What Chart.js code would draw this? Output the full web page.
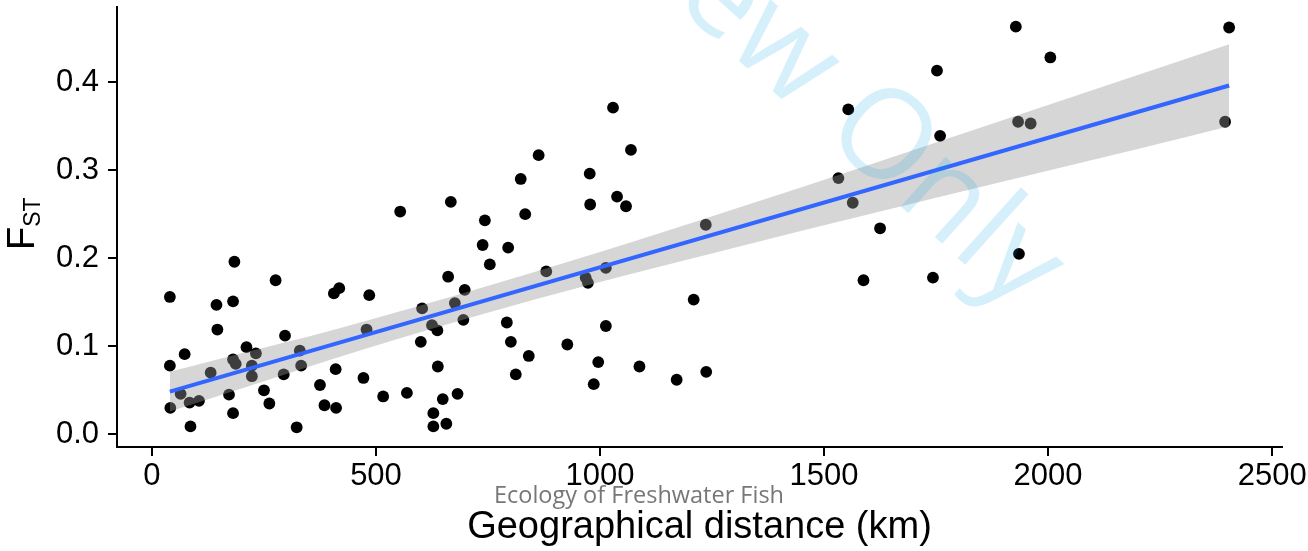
<!DOCTYPE html>
<html>
<head>
<meta charset="utf-8">
<script src="https://cdn.jsdelivr.net/npm/chart.js@4.4.1/dist/chart.umd.min.js"></script>
<style>
  html, body { margin: 0; padding: 0; background: #fff; }
  #wrap { width: 1308px; height: 551px; }
</style>
</head>
<body>
<div id="wrap"><canvas id="fstChart"></canvas></div>
<script>
// geographical distance (km) and pairwise FST
const distKm = [184, 276, 40, 144, 181, 146, 297, 211, 232, 73,
  40, 181, 187, 223, 223, 131, 294, 330, 333, 250,
  262, 172, 64, 84, 105, 41, 181, 86, 323, 738,
  754, 418, 406, 485, 661, 698, 676, 603, 695, 625,
  637, 479, 600, 410, 375, 472, 638, 569, 516, 385,
  411, 649, 682, 628, 628, 657, 823, 863, 978, 1038,
  1058, 743, 833, 795, 880, 968, 973, 1013, 792, 801,
  841, 812, 927, 1013, 996, 986, 1088, 554, 667, 1029,
  1069, 977, 1236, 1209, 1171, 1237, 1928, 2005, 1752, 1554,
  1759, 1933, 1961, 1532, 1564, 1625, 1935, 1588, 1743, 2404,
  2395];
const fst = [0.196, 0.175, 0.156, 0.147, 0.151, 0.119, 0.112, 0.099, 0.092, 0.091,
  0.078, 0.085, 0.080, 0.078, 0.066, 0.070, 0.068, 0.095, 0.078, 0.050,
  0.035, 0.045, 0.046, 0.036, 0.038, 0.030, 0.024, 0.009, 0.008, 0.215,
  0.193, 0.166, 0.160, 0.158, 0.179, 0.164, 0.149, 0.143, 0.130, 0.124,
  0.118, 0.119, 0.105, 0.074, 0.056, 0.064, 0.077, 0.047, 0.043, 0.033,
  0.030, 0.040, 0.046, 0.024, 0.009, 0.012, 0.290, 0.317, 0.261, 0.270,
  0.259, 0.243, 0.250, 0.212, 0.185, 0.178, 0.172, 0.189, 0.127, 0.105,
  0.089, 0.068, 0.102, 0.123, 0.082, 0.057, 0.077, 0.253, 0.264, 0.371,
  0.323, 0.296, 0.238, 0.153, 0.062, 0.071, 0.463, 0.428, 0.413, 0.369,
  0.339, 0.355, 0.353, 0.291, 0.263, 0.234, 0.205, 0.175, 0.178, 0.462,
  0.355];

// linear fit (blue line) end points
const fitX = [40, 2404];
const fitY = [0.0485, 0.3962];

// 95% confidence band, read at a few distances
const bandX = [40, 200, 400, 700, 1000, 1300, 1600, 1900, 2200, 2404];
const bandLow = [0.026, 0.052, 0.085, 0.131, 0.173, 0.212, 0.250, 0.287, 0.324, 0.350];
const bandHigh = [0.071, 0.092, 0.118, 0.161, 0.207, 0.256, 0.306, 0.357, 0.408, 0.443];

const xTicks = [0, 500, 1000, 1500, 2000, 2500];
const yTicks = [0, 0.1, 0.2, 0.3, 0.4];

const toXY = (xs, ys) => xs.map((x, i) => ({ x: x, y: ys[i] }));

const textPlugin = {
  id: 'texts',
  afterDraw(chart) {
    const ctx = chart.ctx;
    const area = chart.chartArea;
    const cx = (area.left + area.right) / 2;
    ctx.save();
    ctx.fillStyle = '#000';
    ctx.textBaseline = 'alphabetic';

    // x title
    ctx.font = '38px "Liberation Sans", Arial, sans-serif';
    ctx.textAlign = 'center';
    ctx.fillText('Geographical distance (km)', cx, 538);

    // journal caption
    ctx.fillStyle = '#777';
    ctx.font = '23.5px "Open Sans", sans-serif';
    ctx.fillText('Ecology of Freshwater Fish', 639, 503);

    // y title F with subscript ST
    ctx.fillStyle = '#000';
    ctx.save();
    ctx.translate(34, 250);
    ctx.rotate(-Math.PI / 2);
    ctx.textAlign = 'left';
    ctx.font = '38px "Liberation Sans", Arial, sans-serif';
    ctx.fillText('F', 0, 0);
    const fw = ctx.measureText('F').width;
    ctx.font = '23px "Liberation Sans", Arial, sans-serif';
    ctx.fillText('ST', fw, 6);
    ctx.restore();

    // watermark
    ctx.save();
    ctx.translate(780, 50);
    ctx.rotate(42 * Math.PI / 180);
    ctx.font = '125px "Open Sans", sans-serif';
    ctx.fillStyle = 'rgba(0,160,230,0.16)';
    ctx.textAlign = 'center';
    ctx.textBaseline = 'middle';
    ctx.fillText('Review Only', 0, 0);
    ctx.restore();

    ctx.restore();
  }
};

new Chart(document.getElementById('fstChart'), {
  type: 'scatter',
  data: {
    datasets: [
      {
        data: toXY(distKm, fst),
        backgroundColor: '#000',
        pointRadius: 5.9,
        pointBorderWidth: 0,
        order: 3
      },
      {
        type: 'line',
        data: toXY(bandX, bandLow),
        borderWidth: 0,
        pointRadius: 0,
        fill: false,
        cubicInterpolationMode: 'monotone',
        order: 2
      },
      {
        type: 'line',
        data: toXY(bandX, bandHigh),
        borderWidth: 0,
        pointRadius: 0,
        fill: '-1',
        backgroundColor: 'rgba(153,153,153,0.4)',
        cubicInterpolationMode: 'monotone',
        order: 2
      },
      {
        type: 'line',
        data: toXY(fitX, fitY),
        borderColor: '#3366FF',
        borderWidth: 4,
        pointRadius: 0,
        fill: false,
        order: 0
      }
    ]
  },
  options: {
    responsive: true,
    maintainAspectRatio: false,
    animation: false,
    layout: { padding: { left: 0, right: 26, top: 7, bottom: 0 } },
    plugins: {
      legend: { display: false },
      tooltip: { enabled: false }
    },
    scales: {
      x: {
        type: 'linear',
        min: -78,
        max: 2522,
        afterBuildTicks: scale => { scale.ticks = xTicks.map(v => ({ value: v })); },
        afterFit: scale => {
          scale.height = 104;
          scale.paddingLeft = 0;
          scale.paddingRight = 0;
        },
        grid: { drawOnChartArea: false, drawTicks: true, tickLength: 9, color: '#000', lineWidth: 2 },
        border: { display: true, color: '#000', width: 2 },
        ticks: {
          color: '#000',
          padding: 2,
          maxRotation: 0,
          font: { family: 'Liberation Sans', size: 31 },
          callback: v => String(v)
        }
      },
      y: {
        type: 'linear',
        min: -0.0144,
        max: 0.4853,
        afterBuildTicks: scale => { scale.ticks = yTicks.map(v => ({ value: v })); },
        afterFit: scale => {
          scale.width = 117;
          scale.paddingTop = 0;
          scale.paddingBottom = 0;
        },
        grid: { drawOnChartArea: false, drawTicks: true, tickLength: 9, color: '#000', lineWidth: 2 },
        border: { display: true, color: '#000', width: 2 },
        ticks: {
          color: '#000',
          padding: 9,
          font: { family: 'Liberation Sans', size: 31 },
          callback: v => v.toFixed(1)
        }
      }
    }
  },
  plugins: [textPlugin]
});
</script>
</body>
</html>
